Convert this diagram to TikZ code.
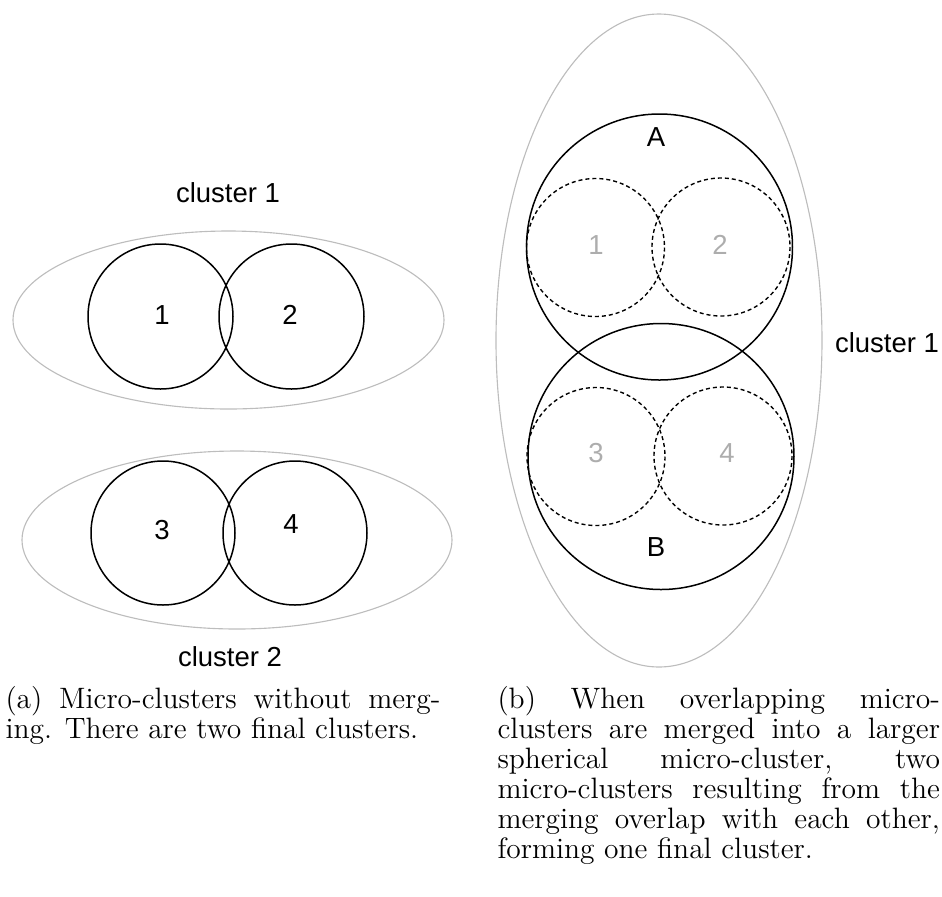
\documentclass[tikz,border=0pt]{standalone}
\usepackage{fontspec}
\newfontfamily\arialfont{Liberation Sans}
\definecolor{ringgray}{HTML}{BDBDBD}
\definecolor{numgray}{HTML}{ADADAD}

\begin{document}
\begin{tikzpicture}[x=0.4pt,y=-0.4pt,
  micro/.style={draw,line width=0.6pt},
  merged/.style={draw,line width=0.55pt,dash pattern=on 1.6pt off 1.2pt},
  outer/.style={draw=ringgray,line width=0.45pt},
  lbl/.style={font=\arialfont\fontsize{11}{13}\selectfont},
  faded/.style={lbl,text=numgray},
  capt/.style={anchor=north west,align=justify,inner sep=0pt,font=\fontsize{11.8}{12}\selectfont}]
  \useasboundingbox (0,0) rectangle (942,896);

  % (a) two separate clusters
  \draw[outer] (228.5,320) ellipse [x radius=215.5,y radius=89];
  \draw[micro] (160.5,316.5) circle (72.5);
  \draw[micro] (291.5,316.5) circle (72.5);
  \node[lbl] (c1) at (162,315) {1};
  \node[lbl] (c2) at (290,315) {2};
  \node[lbl] (clA) at (228,193) {cluster 1};

  \draw[outer] (237,540) ellipse [x radius=215,y radius=89];
  \draw[micro] (163,533) circle (72);
  \draw[micro] (295,533) circle (72);
  \node[lbl] (c3) at (162,530) {3};
  \node[lbl] (c4) at (291,524) {4};
  \node[lbl] (clB) at (230,657) {cluster 2};

  % (b) merged micro-clusters A and B
  \draw[outer] (659,340.5) ellipse [x radius=163,y radius=326.5];
  \draw[merged] (595.5,247.5) circle (69);
  \draw[merged] (721,247) circle (69);
  \draw[merged] (596,456.5) circle (69);
  \draw[merged] (723,456) circle (69);
  \draw[micro] (659.5,247) circle (133);
  \draw[micro] (661,456.5) circle (133);
  \node[faded] (m1) at (596,245) {1};
  \node[faded] (m2) at (720,245) {2};
  \node[faded] (m3) at (596,453) {3};
  \node[faded] (m4) at (727,453) {4};
  \node[lbl] (mA) at (656,137) {A};
  \node[lbl] (mB) at (656,547) {B};
  \node[lbl] (clC) at (887,343) {cluster 1};

  % captions
  \node[capt,text width=174pt] (capA) at (5,686) {(a) Micro-clusters without merg-\linebreak ing. There are two final clusters.};
  \node[capt,text width=177pt] (capB) at (497,686) {(b) When overlapping micro-\linebreak clusters are merged into a larger\linebreak spherical micro-cluster, two\linebreak micro-clusters resulting from the\linebreak merging overlap with each other,\linebreak forming one final cluster.};
\end{tikzpicture}
\end{document}
